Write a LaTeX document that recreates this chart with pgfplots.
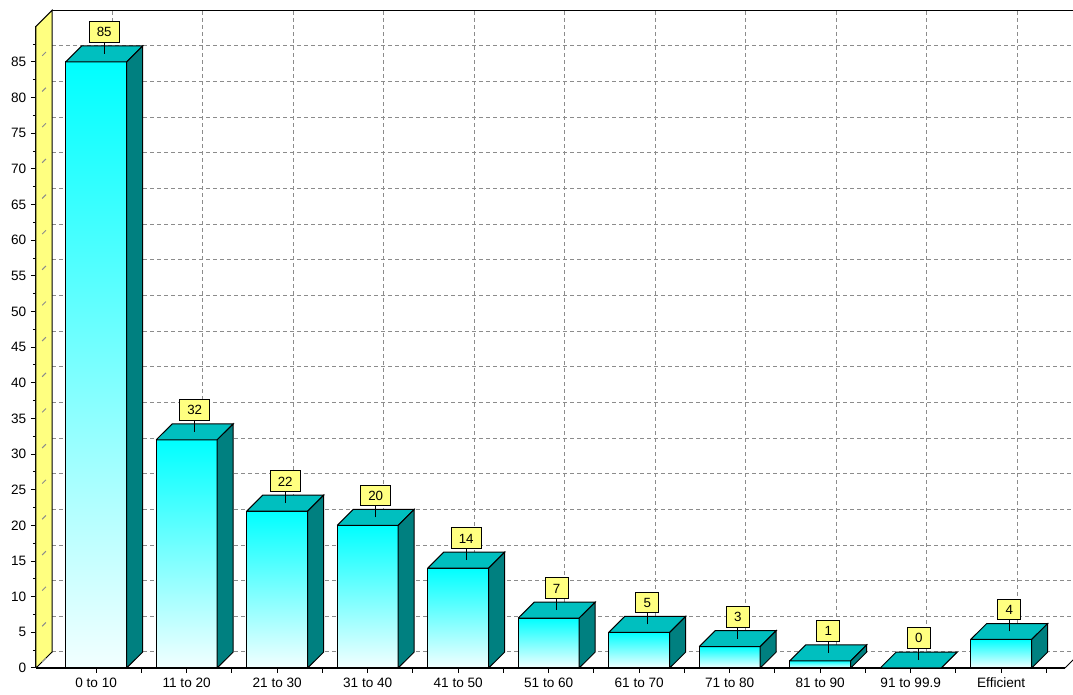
\documentclass[border=0pt]{standalone}
\usepackage{pgfplots}
\pgfplotsset{compat=1.18}
\usepackage{pgfplotstable}
\usepackage{fontspec}
\setmainfont{Liberation Sans}
\definecolor{wallyellow}{RGB}{255,255,128}
\definecolor{labelyellow}{RGB}{255,255,128}
\definecolor{topteal}{RGB}{0,191,191}
\definecolor{sideteal}{RGB}{0,128,128}
\definecolor{barcyan}{RGB}{0,255,255}
\definecolor{barpale}{RGB}{242,255,255}
\definecolor{gridgray}{RGB}{140,140,140}
\pgfdeclareplotmark{stem}{\pgfpathmoveto{\pgfpointorigin}\pgfpathlineto{\pgfpoint{0pt}{8.25pt}}\pgfusepathqstroke}
\pgfplotstableread{
x v
0 85
1 32
2 22
3 20
4 14
5 7
6 5
7 3
8 1
9 0
10 4
}\bars
\pgfplotstableread{
x y
-0.665 0
-0.665 5
-0.665 10
-0.665 15
-0.665 20
-0.665 25
-0.665 30
-0.665 35
-0.665 40
-0.665 45
-0.665 50
-0.665 55
-0.665 60
-0.665 65
-0.665 70
-0.665 75
-0.665 80
-0.665 85
}\walllines
\begin{document}
\begin{tikzpicture}
% back wall with grid
\begin{axis}[
  at={(12pt,12pt)}, anchor=south west,
  scale only axis, width=771.75pt, height=481.28pt,
  xmin=-0.665, xmax=10.705, ymin=0, ymax=90,
  axis line style={draw=none},
  xtick={0,...,10}, ytick={0,5,...,85},
  xticklabels={}, yticklabels={},
  major tick length=0pt,
  grid=major,
  grid style={gridgray, line width=0.75pt, dash pattern=on 3pt off 2.25pt},
  clip=false,
]
\addplot[black, line width=1pt] coordinates {(-0.665,90) (10.9,90)};
\end{axis}
% front: walls, bars, labels
\begin{axis}[
  at={(0pt,0pt)}, anchor=south west,
  scale only axis, width=771.75pt, height=481.28pt,
  xmin=-0.665, xmax=10.705, ymin=0, ymax=90,
  axis x line*=bottom, axis y line*=left,
  axis line style={line width=1.8pt, -},
  clip=false,
  xtick={0,...,10},
  xticklabels={0 to 10,11 to 20,21 to 30,31 to 40,41 to 50,51 to 60,61 to 70,71 to 80,81 to 90,91 to 99.9,Efficient},
  extra x ticks={0.5,1.5,2.5,3.5,4.5,5.5,6.5,7.5,8.5,9.5,10.5},
  extra x tick labels={},
  ytick={0,5,...,85},
  minor ytick={2.5,7.5,...,87.5},
  tick align=outside,
  major tick length=3.75pt, minor tick length=2.25pt,
  tick style={black, line width=0.75pt},
  /pgf/number format/assume math mode=true,
  ticklabel style={font=\fontsize{10.2pt}{12pt}\selectfont, text=black},
]
% left wall
\addplot[fill=wallyellow, draw=black, line width=0.75pt] coordinates {(-0.665,0) (-0.665,90) (-0.488,92.24) (-0.488,2.24) (-0.665,0)};
\addplot[quiver={u=0.177, v=2.24}, -, gridgray, line width=0.75pt, dash pattern=on 0pt off 6.5pt on 4pt off 20pt] table[x=x, y=y] {\walllines};
% right floor edge
\addplot[black, line width=0.75pt] coordinates {(10.705,0) (10.882,2.24)};
% bars: front, top and side faces
\pgfplotsforeachungrouped \i in {0,...,10}{%
  \pgfplotstablegetelem{\i}{v}\of{\bars}%
  \pgfmathsetmacro\vv{\pgfplotsretval}%
  \pgfmathsetmacro\xa{\i-0.337}%
  \pgfmathsetmacro\xb{\i+0.337}%
  \pgfmathsetmacro\xc{\i+0.337+0.177}%
  \pgfmathsetmacro\xd{\i-0.337+0.177}%
  \pgfmathsetmacro\vt{\vv+2.24}%
  \ifdim\vv pt>0pt
    \edef\front{%
      \noexpand\addplot[top color=barcyan, bottom color=barpale, draw=black, line width=0.75pt] coordinates {(\xa,0) (\xb,0) (\xb,\vv) (\xa,\vv) (\xa,0)};
    }\front
  \fi
  \edef\faces{%
    \noexpand\addplot[fill=topteal, draw=black, line width=0.75pt] coordinates {(\xa,\vv) (\xb,\vv) (\xc,\vt) (\xd,\vt) (\xa,\vv)};
    \noexpand\addplot[fill=sideteal, draw=black, line width=0.75pt] coordinates {(\xb,0) (\xb,\vv) (\xc,\vt) (\xc,2.24) (\xb,0)};
  }\faces
}
% value labels
\addplot[only marks, mark=stem, mark options={black, line width=0.9pt},
  nodes near coords={\pgfmathprintnumber[assume math mode=true]{\pgfplotspointmeta}},
  point meta=explicit,
  every node near coord/.append style={anchor=south, yshift=8.25pt, draw=black, fill=labelyellow,
    line width=0.75pt, font=\fontsize{10pt}{12pt}\selectfont, text=black,
    inner xsep=5.8pt, inner ysep=4.2pt, text height=7.2pt, text depth=0pt}]
  table[x expr=\thisrow{x}+0.0885, y expr=\thisrow{v}+1.12, meta=v] {\bars};
\end{axis}
\pgfresetboundingbox
\path[use as bounding box] (-27pt,-20.25pt) rectangle (777.75pt,501pt);
\end{tikzpicture}
\end{document}
